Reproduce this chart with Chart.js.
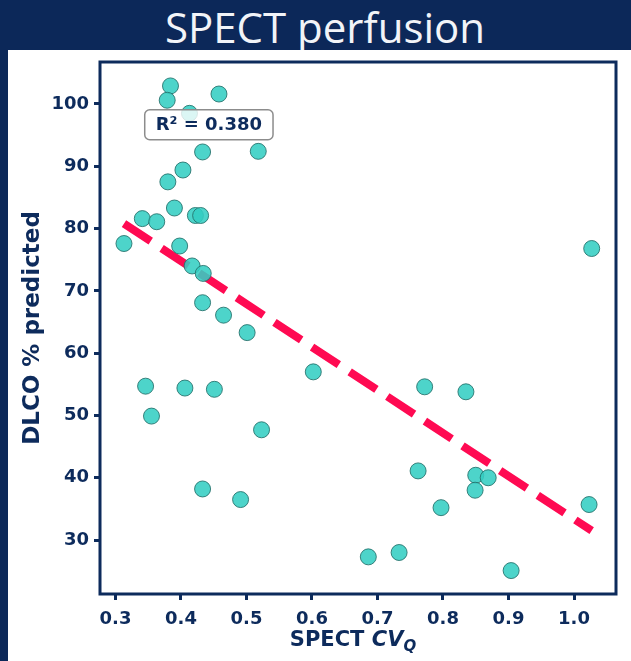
<!DOCTYPE html>
<html>
<head>
<meta charset="utf-8">
<script src="https://cdn.jsdelivr.net/npm/chart.js@4.4.0/dist/chart.umd.min.js"></script>
<style>
  html, body { margin: 0; padding: 0; }
  body { width: 631px; height: 661px; background: #0c2859; position: relative; overflow: hidden; }
  #title { position: absolute; left: 0; top: 2px; width: 650px; height: 50px; line-height: 50px;
           text-align: center; color: #f2f4f8; font-family: "Open Sans", sans-serif; font-size: 42px; }
  #panel { position: absolute; left: 8px; top: 50px; width: 623px; height: 611px; background: #fff; }
  canvas { display: block; }
</style>
</head>
<body>
<div id="title">SPECT perfusion</div>
<div id="panel"><canvas id="c" width="623" height="611"></canvas></div>
<script>
// 資料
const cvQ = [0.384, 0.379, 0.458, 0.413, 0.433, 0.518, 0.403, 0.380, 0.390, 0.341,
             0.363, 0.422, 0.430, 0.313, 0.398, 0.417, 0.434, 0.433, 0.465, 0.501,
             0.602, 0.346, 0.406, 0.451, 0.355, 0.523, 0.433, 0.491, 0.772, 0.835,
             0.762, 0.850, 0.869, 0.849, 0.797, 1.023, 0.686, 0.733, 0.904, 1.027];
const dlco = [102.9, 100.6, 101.6, 98.5, 92.3, 92.4, 89.4, 87.5, 83.3, 81.6,
              81.1, 82.1, 82.1, 77.6, 77.2, 74.0, 72.8, 68.1, 66.1, 63.3,
              57.0, 54.7, 54.4, 54.2, 49.9, 47.7, 38.2, 36.5, 54.6, 53.8,
              41.1, 40.4, 40.0, 38.0, 35.2, 35.7, 27.3, 28.0, 25.1, 76.8];
const fitX = [0.313, 1.027];
const fitY = [80.8, 31.5];
const xTicks = [0.3, 0.4, 0.5, 0.6, 0.7, 0.8, 0.9, 1.0];
const yTicks = [30, 40, 50, 60, 70, 80, 90, 100];
const r2Label = 'R\u00b2 = 0.380';

const NAVY = '#0d2b5c';
const FONT = 'DejaVu Sans';

// 外框 + R² 標籤 + x 軸標題
const decorations = {
    id: 'decorations',
    afterDraw(chart) {
        const ctx = chart.ctx;
        const a = chart.chartArea;
        ctx.save();
        // frame
        ctx.strokeStyle = NAVY;
        ctx.lineWidth = 3;
        ctx.strokeRect(a.left, a.top, a.right - a.left, a.bottom - a.top);

        // R² box
        ctx.font = 'bold 18px "' + FONT + '"';
        const tw = ctx.measureText(r2Label).width;
        const cx = a.left + 0.211 * (a.right - a.left);
        const cy = a.top + 0.118 * (a.bottom - a.top);
        const bw = tw + 22, bh = 30;
        ctx.beginPath();
        ctx.roundRect(cx - bw / 2, cy - bh / 2, bw, bh, 5);
        ctx.fillStyle = 'rgba(255,255,255,0.8)';
        ctx.fill();
        ctx.strokeStyle = '#8c8c8c';
        ctx.lineWidth = 1.5;
        ctx.stroke();
        ctx.fillStyle = NAVY;
        ctx.textAlign = 'center';
        ctx.textBaseline = 'middle';
        ctx.fillText(r2Label, cx, cy + 1);

        // x title: SPECT CV_Q
        const f1 = 'bold 21px "' + FONT + '"';
        const f2 = 'italic bold 21px "' + FONT + '"';
        const f3 = 'italic bold 15px "' + FONT + '"';
        ctx.textAlign = 'left';
        ctx.textBaseline = 'alphabetic';
        ctx.font = f1; const w1 = ctx.measureText('SPECT ').width;
        ctx.font = f2; const w2 = ctx.measureText('CV').width;
        ctx.font = f3; const w3 = ctx.measureText('Q').width;
        let x = (a.left + a.right) / 2 - 5 - (w1 + w2 + w3) / 2;
        const base = a.bottom + 52;
        ctx.font = f1; ctx.fillText('SPECT ', x, base); x += w1;
        ctx.font = f2; ctx.fillText('CV', x, base); x += w2;
        ctx.font = f3; ctx.fillText('Q', x, base + 5);
        ctx.restore();
    }
};

const tickFont = { family: FONT, size: 18, weight: 'bold' };

new Chart(document.getElementById('c').getContext('2d'), {
    type: 'scatter',
    data: {
        datasets: [
            {
                type: 'scatter',
                data: cvQ.map((v, i) => ({ x: v, y: dlco[i] })),
                backgroundColor: 'rgba(52, 206, 195, 0.88)',
                borderColor: 'rgba(35, 110, 105, 0.85)',
                borderWidth: 1,
                pointRadius: 8,
                order: 1
            },
            {
                type: 'line',
                data: fitX.map((v, i) => ({ x: v, y: fitY[i] })),
                borderColor: '#ff0a52',
                borderWidth: 8,
                borderDash: [32, 13],
                pointRadius: 0,
                fill: false,
                order: 2
            }
        ]
    },
    options: {
        responsive: false,
        animation: false,
        layout: { padding: { top: 12, right: 15, left: 0, bottom: 0 } },
        plugins: { legend: { display: false }, tooltip: { enabled: false } },
        scales: {
            x: {
                type: 'linear',
                min: 0.2764,
                max: 1.0641,
                afterBuildTicks: s => { s.ticks = xTicks.map(v => ({ value: v })); },
                afterFit: s => { s.height = 67; s.paddingLeft = 0; s.paddingRight = 0; },
                border: { display: false },
                grid: { drawOnChartArea: false, drawTicks: true, tickLength: 6, tickWidth: 3, tickColor: NAVY },
                ticks: { font: tickFont, color: NAVY, padding: 9, callback: v => v.toFixed(1) }
            },
            y: {
                type: 'linear',
                min: 21.34,
                max: 106.74,
                afterBuildTicks: s => { s.ticks = yTicks.map(v => ({ value: v })); },
                afterFit: s => { s.width = 92; s.paddingTop = 0; s.paddingBottom = 0; },
                border: { display: false },
                grid: { drawOnChartArea: false, drawTicks: true, tickLength: 6, tickWidth: 3, tickColor: NAVY },
                ticks: { font: tickFont, color: NAVY, padding: 5 },
                title: {
                    display: true,
                    text: 'DLCO % predicted',
                    color: NAVY,
                    font: { family: FONT, size: 23, weight: 'bold' },
                    padding: { top: 11, bottom: 0 }
                }
            }
        }
    },
    plugins: [decorations]
});
</script>
</body>
</html>
